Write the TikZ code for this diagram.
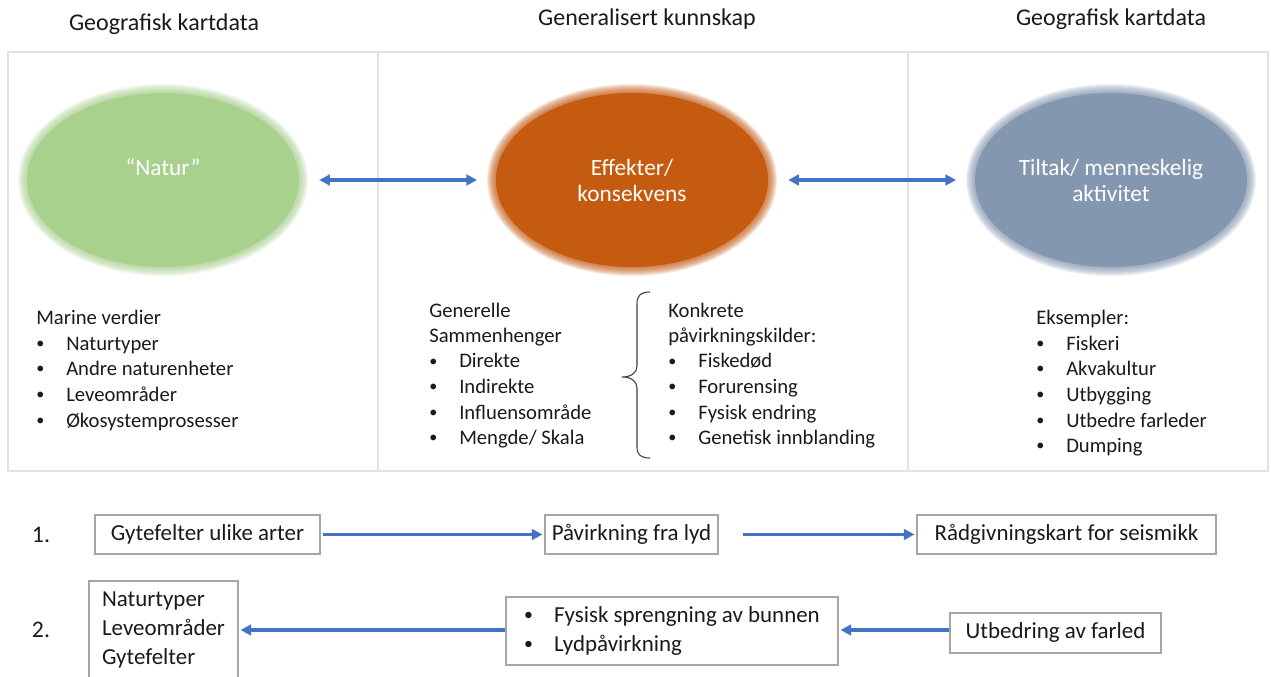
\documentclass[tikz,border=0pt]{standalone}
\usepackage{fontspec}
\setmainfont{Carlito}
\usetikzlibrary{arrows.meta,shapes.geometric}
\definecolor{arrowblue}{HTML}{4472C4}
\definecolor{natgreen}{HTML}{A9D18E}
\definecolor{effor}{HTML}{C55A11}
\definecolor{tiltblue}{HTML}{8497B0}
\definecolor{panelgray}{HTML}{E3E3E3}
\definecolor{boxgray}{HTML}{A6A6A6}
\definecolor{txt}{HTML}{1A1A1A}
\definecolor{bracegray}{HTML}{404040}
\newcommand{\itm}[1]{\makebox[22.5pt][l]{\raisebox{0.07em}{\scalebox{0.78}{•}}}#1}
\begin{document}
\begin{tikzpicture}[x=0.75pt,y=-0.75pt,
  header/.style={font=\fontsize{18}{22}\selectfont, text=txt, inner sep=0},
  listtxt/.style={font=\fontsize{15.5}{19}\selectfont, text=txt, anchor=base west, inner sep=0},
  ovalnode/.style={ellipse, minimum width=204pt, minimum height=130.5pt, inner sep=0,
     text=white, align=center, font=\fontsize{17.5}{19.5}\selectfont},
  boxnode/.style={draw=boxgray, line width=0.8pt, fill=white, text=txt,
     font=\fontsize{17.2}{21.75}\selectfont, inner xsep=4pt, inner ysep=0, align=left},
  arr/.style={draw=arrowblue, line width=2.8pt, -{Triangle[length=8pt,width=8pt]}},
  dblarr/.style={draw=arrowblue, line width=2.8pt, {Triangle[length=8pt,width=8pt]}-{Triangle[length=8pt,width=8pt]}},
  panel/.style={draw=panelgray, line width=0.8pt},
  numtxt/.style={font=\fontsize{17.8}{21.75}\selectfont, text=txt, inner sep=0}
]
\useasboundingbox (0,0) rectangle (1271,677);
\fill[white] (0,0) rectangle (1271,677);

% headers
\node[header] (h1) at (164,24) {Geografisk kartdata};
\node[header] (h2) at (647,19) {Generalisert kunnskap};
\node[header] (h3) at (1111,19) {Geografisk kartdata};

% panel
\draw[panel] (8,52) rectangle (1268,471);
\draw[panel] (378,52) -- (378,471);
\draw[panel] (908,52) -- (908,471);

% soft edges of ellipses
\foreach \cx/\col in {163/natgreen, 632/effor, 1111/tiltblue}{
  \foreach \r in {-8,-7,...,3}{
    \fill[\col, opacity=0.13] (\cx,180) ellipse [x radius=142+\r, y radius=93+\r];
  }
}
\node[ovalnode, fill=natgreen] (natur) at (163,180) {“Natur”\\\mbox{}};
\node[ovalnode, fill=effor] (eff) at (632,180) {Effekter/\\konsekvens};
\node[ovalnode, fill=tiltblue] (tilt) at (1111,180) {Tiltak/ menneskelig\\aktivitet};

\draw[dblarr, shorten <=15pt, shorten >=14pt] (natur) -- (eff);
\draw[dblarr, shorten <=15pt, shorten >=14pt] (eff) -- (tilt);

% left list
\node[listtxt] (mv) at (36,325) {Marine verdier};
\node[listtxt] (mv1) at (36,350) {\itm{Naturtyper}};
\node[listtxt] (mv2) at (36,375) {\itm{Andre naturenheter}};
\node[listtxt] (mv3) at (36,401) {\itm{Leveområder}};
\node[listtxt] (mv4) at (36,427) {\itm{Økosystemprosesser}};

% middle lists
\node[listtxt] (g0) at (429,318) {Generelle};
\node[listtxt] (g1) at (429,343) {Sammenhenger};
\node[listtxt] (g2) at (429,368) {\itm{Direkte}};
\node[listtxt] (g3) at (429,393) {\itm{Indirekte}};
\node[listtxt] (g4) at (429,419) {\itm{Influensområde}};
\node[listtxt] (g5) at (429,444) {\itm{Mengde/ Skala}};

\draw[bracegray, line width=0.8pt] (650,292) .. controls (641,292) and (637,295) .. (637,304)
  -- (637,366) .. controls (637,373) and (631,377) .. (622,377)
  .. controls (631,377) and (637,381) .. (637,388)
  -- (637,447) .. controls (637,455) and (641,458) .. (650,458);

\node[listtxt] (k0) at (668,318) {Konkrete};
\node[listtxt] (k1) at (668,343) {påvirkningskilder:};
\node[listtxt] (k2) at (668,368) {\itm{Fiskedød}};
\node[listtxt] (k3) at (668,393) {\itm{Forurensing}};
\node[listtxt] (k4) at (668,419) {\itm{Fysisk endring}};
\node[listtxt] (k5) at (668,444) {\itm{Genetisk innblanding}};

% right list
\node[listtxt] (e0) at (1036,325) {Eksempler:};
\node[listtxt] (e1) at (1036,350) {\itm{Fiskeri}};
\node[listtxt] (e2) at (1036,375) {\itm{Akvakultur}};
\node[listtxt] (e3) at (1036,401) {\itm{Utbygging}};
\node[listtxt] (e4) at (1036,427) {\itm{Utbedre farleder}};
\node[listtxt] (e5) at (1036,452) {\itm{Dumping}};

% row 1
\node[numtxt] (n1) at (41,535) {1.};
\node[boxnode, minimum width=168.75pt, minimum height=29.25pt] (r1a) at (207.5,534.5) {Gytefelter ulike arter};
\node[boxnode, minimum width=129.75pt, minimum height=29.25pt] (r1b) at (631.5,534.5) {Påvirkning fra lyd};
\node[boxnode, minimum width=224.25pt, minimum height=29.25pt] (r1c) at (1066.5,534.5) {Rådgivningskart for seismikk};
\draw[arr, shorten <=1.5pt, shorten >=1.5pt] (r1a) -- (r1b);
\draw[arr, shorten <=18pt, shorten >=1.5pt] (r1b) -- (r1c);

% row 2
\node[numtxt] (n2) at (41,630) {2.};
\node[boxnode, minimum width=111.75pt, minimum height=73.5pt] (r2a) at (163.5,630) {Naturtyper\\Leveområder\\Gytefelter};
\node[boxnode, minimum width=249pt, minimum height=51pt] (r2b) at (672,631) {\itm{Fysisk sprengning av bunnen}\\\itm{Lydpåvirkning}};
\node[boxnode, minimum width=158.25pt, minimum height=30pt] (r2c) at (1055.5,633) {Utbedring av farled};
\draw[arr, shorten >=1.5pt] (r2b.west |- 0,630) -- (r2a.east |- 0,630);
\draw[arr, shorten >=1.5pt] (r2c.west |- 0,630) -- (r2b.east |- 0,630);
\end{tikzpicture}
\end{document}
